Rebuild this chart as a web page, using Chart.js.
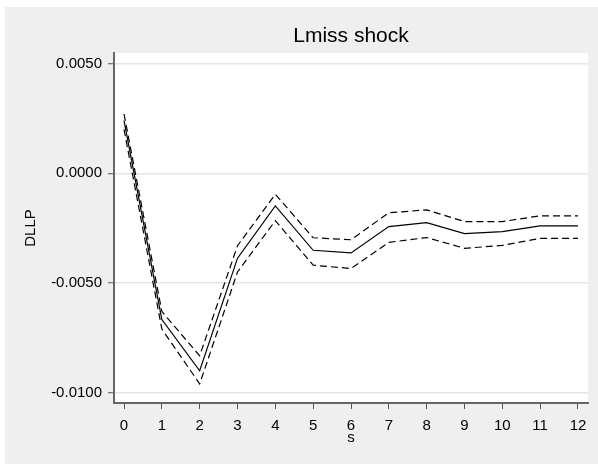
<!DOCTYPE html>
<html>
<head>
<meta charset="utf-8">
<script src="https://cdn.jsdelivr.net/npm/chart.js@4.4.1/dist/chart.umd.min.js"></script>
<style>
  html, body { margin: 0; padding: 0; background: #fff; }
  #wrap { width: 598px; height: 464px; }
</style>
</head>
<body>
<div id="wrap"><canvas id="irfChart" width="598" height="464"></canvas></div>
<script>
var steps = [0, 1, 2, 3, 4, 5, 6, 7, 8, 9, 10, 11, 12];
var irf = [0.0024, -0.00667, -0.0090, -0.00387, -0.00149, -0.00351, -0.00363, -0.00243, -0.00225, -0.00275, -0.00266, -0.0024, -0.0024];
var upper = [0.0027, -0.0063, -0.00832, -0.0033, -0.00096, -0.00294, -0.00303, -0.0018, -0.00167, -0.0022, -0.0022, -0.00194, -0.00194];
var lower = [0.0020, -0.0071, -0.0096, -0.0045, -0.00216, -0.00419, -0.00434, -0.00315, -0.00293, -0.00342, -0.00329, -0.00297, -0.00297];
var yTicks = [-0.01, -0.005, 0, 0.005];

function pts(arr) {
  return steps.map(function (s, i) { return { x: s, y: arr[i] }; });
}

var bgPlugin = {
  id: "stataBg",
  beforeDraw: function (chart) {
    var c = chart.ctx, a = chart.chartArea;
    c.save();
    c.fillStyle = "#efefef";
    c.fillRect(5, 7, chart.width - 5, chart.height - 7);
    c.fillStyle = "#ffffff";
    c.fillRect(a.left, a.top, a.right - a.left, a.bottom - a.top);
    c.restore();
  },
  afterDraw: function (chart) {
    var c = chart.ctx, a = chart.chartArea;
    c.save();
    c.fillStyle = "#000";
    c.textAlign = "center";
    c.textBaseline = "middle";
    c.font = "21px 'Liberation Sans', Arial, sans-serif";
    c.fillText("Lmiss shock", (a.left + a.right) / 2, 36);
    c.font = "15px 'Liberation Sans', Arial, sans-serif";
    c.fillText("s", (a.left + a.right) / 2, 438);
    c.translate(31, (a.top + a.bottom) / 2);
    c.rotate(-Math.PI / 2);
    c.fillText("DLLP", 0, 0);
    c.restore();
  }
};

var ctx = document.getElementById("irfChart").getContext("2d");
var irfChart = new Chart(ctx, {
  type: "line",
  data: {
    datasets: [
      {
        label: "upper",
        data: pts(upper),
        borderColor: "#000",
        borderWidth: 1.2,
        borderDash: [7, 4],
        pointRadius: 0,
        fill: false,
      },
      {
        label: "irf",
        data: pts(irf),
        borderColor: "#000",
        borderWidth: 1.2,
        pointRadius: 0,
        fill: false,
      },
      {
        label: "lower",
        data: pts(lower),
        borderColor: "#000",
        borderWidth: 1.2,
        borderDash: [7, 4],
        pointRadius: 0,
        fill: false,
      },
    ],
  },
  options: {
    responsive: false,
    animation: false,
    layout: { padding: { top: 53, right: 10, left: 0, bottom: 0 } },
    plugins: { legend: { display: false }, tooltip: { enabled: false } },
    scales: {
      x: {
        type: "linear",
        min: -0.265,
        max: 12.265,
        afterBuildTicks: function (scale) {
          scale.ticks = steps.map(function (s) { return { value: s }; });
        },
        afterFit: function (scale) { scale.height = 61; },
        grid: { drawOnChartArea: false, drawTicks: true, tickLength: 6, tickColor: "#555", tickWidth: 1 },
        border: { display: true, color: "#666", width: 2 },
        ticks: {
          padding: 8,
          color: "#000",
          maxRotation: 0,
          autoSkip: false,
          font: { family: "'Liberation Sans', Arial, sans-serif", size: 15 },
        },
      },
      y: {
        min: -0.01047,
        max: 0.00548,
        afterBuildTicks: function (scale) {
          scale.ticks = yTicks.map(function (v) { return { value: v }; });
        },
        afterFit: function (scale) { scale.width = 114; },
        grid: { color: "#e6e6e6", lineWidth: 1.5, tickLength: 6, tickColor: "#555", tickWidth: 1 },
        border: { display: true, color: "#666", width: 2 },
        ticks: {
          padding: 6,
          color: "#000",
          font: { family: "'Liberation Sans', Arial, sans-serif", size: 15 },
          callback: function (v) { return v.toFixed(4); },
        },
      },
    },
  },
  plugins: [bgPlugin],
});
</script>
</body>
</html>
